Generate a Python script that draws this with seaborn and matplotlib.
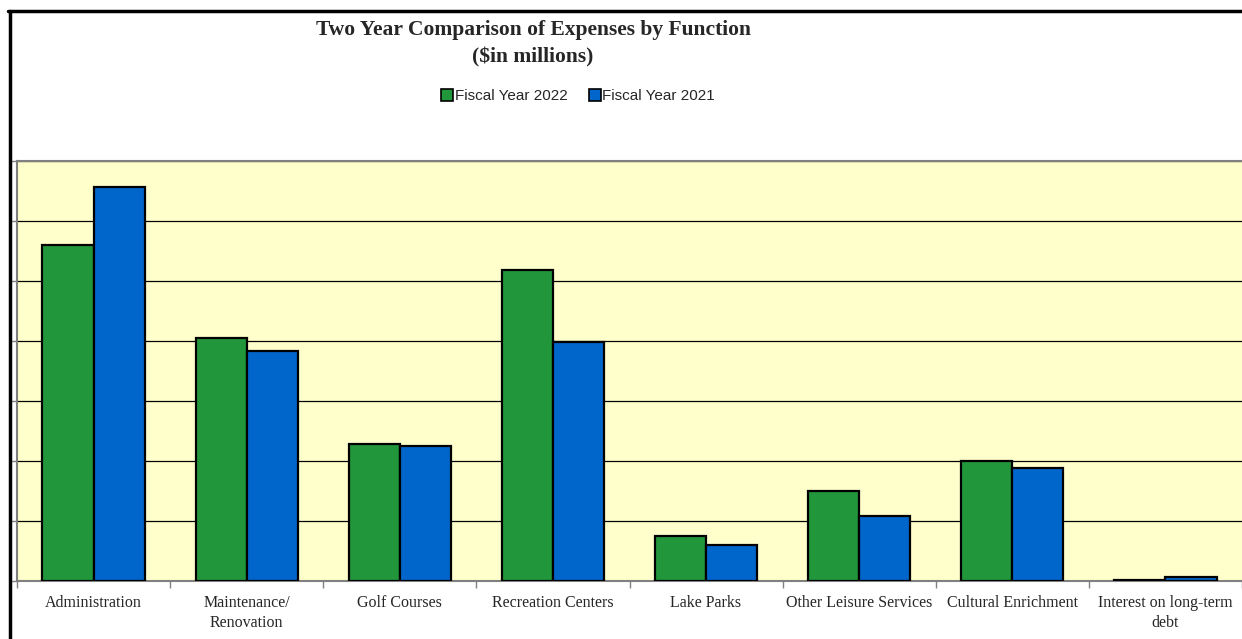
import matplotlib
matplotlib.use("Agg")
import matplotlib.pyplot as plt
import seaborn as sns
import pandas as pd
from matplotlib.lines import Line2D

categories = ["Administration", "Maintenance/\nRenovation", "Golf Courses", "Recreation Centers",
              "Lake Parks", "Other Leisure Services", "Cultural Enrichment", "Interest on long-term\ndebt"]
fy2022 = [5.6, 4.05, 2.28, 5.18, 0.75, 1.5, 2.0, 0.02]
fy2021 = [6.57, 3.83, 2.25, 3.98, 0.6, 1.08, 1.88, 0.07]
series_names = ["Fiscal Year 2022", "Fiscal Year 2021"]
colors = ["#21963A", "#0066CC"]

df = pd.DataFrame({
    "category": categories * 2,
    "value": fy2022 + fy2021,
    "year": [series_names[0]] * len(categories) + [series_names[1]] * len(categories),
})

sns.set_theme(style="white")
plt.rcParams["font.family"] = ["Liberation Serif", "DejaVu Serif"]

fig = plt.figure(figsize=(12.42, 6.39), dpi=100)
ax = fig.add_axes([17 / 1242, 1 - 581 / 639, 1 - 17 / 1242, (581 - 161) / 639])
ax.set_facecolor("#FFFFCC")

sns.barplot(data=df, x="category", y="value", hue="year", palette=colors,
            width=0.667, edgecolor="black", linewidth=1.6, ax=ax, legend=False,
            zorder=3, saturation=1)

ax.set_ylim(0, 7)
ax.set_xlim(-0.5, len(categories) - 0.5)
ax.set_yticks(range(0, 8))
ax.set_yticklabels([])
ax.yaxis.grid(True, color="black", linewidth=0.9, zorder=1)
ax.set_axisbelow(True)
ax.tick_params(axis="y", which="major", direction="out", length=4, color="#808080", left=True, width=1)
ax.set_xticks(range(len(categories)))
ax.set_xticklabels(categories, fontsize=11.5, family=["Liberation Serif"], linespacing=1.35)
ax.tick_params(axis="x", which="major", length=0, pad=10)
ax.set_xticks([i + 0.5 for i in range(-1, len(categories))], minor=True)
ax.tick_params(axis="x", which="minor", direction="out", length=5, color="#808080", bottom=True, width=1)
ax.set_xlabel("")
ax.set_ylabel("")
for s in ["top", "left", "bottom"]:
    ax.spines[s].set_color("#808080")
    ax.spines[s].set_linewidth(1.5)
ax.spines["right"].set_visible(False)

fig.text(533 / 1242, 1 - 30 / 639, "Two Year Comparison of Expenses by Function",
         ha="center", va="center", fontsize=15.5, fontweight="bold", family=["Liberation Serif"])
fig.text(533 / 1242, 1 - 57 / 639, "($in millions)",
         ha="center", va="center", fontsize=15.5, fontweight="bold", family=["Liberation Serif"])

handles = [Line2D([0], [0], marker="s", linestyle="", markersize=8, markerfacecolor=c,
                  markeredgecolor="black", markeredgewidth=1.2) for c in colors]
fig.legend(handles, series_names, loc="center", bbox_to_anchor=(578 / 1242, 1 - 96 / 639),
           ncol=2, frameon=False, handlelength=0.8, handletextpad=0.1, columnspacing=1.4,
           prop={"family": "Liberation Sans", "size": 11})

# outer chart border (left and top visible)
fig.add_artist(Line2D([9.5 / 1242, 9.5 / 1242], [0, 1 - 11 / 639], transform=fig.transFigure,
                      color="black", linewidth=2.5))
fig.add_artist(Line2D([8 / 1242, 1], [1 - 11 / 639, 1 - 11 / 639], transform=fig.transFigure,
                      color="black", linewidth=2.5))

fig.savefig("out.png", dpi=100)
